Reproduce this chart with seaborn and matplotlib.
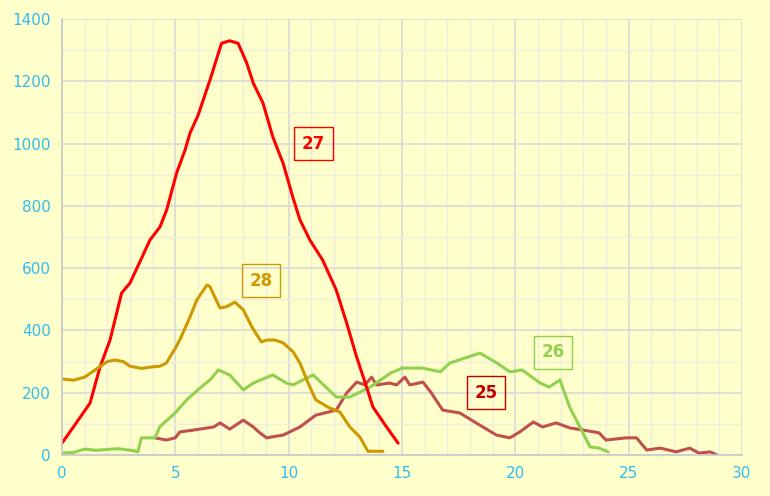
import pandas as pd
import seaborn as sns
import matplotlib.pyplot as plt
from matplotlib.ticker import MultipleLocator

# series (x, y pairs)
x27 = [0, 0.6, 1.24, 1.68, 2.12, 2.63, 3.0, 3.5, 3.88, 4.32, 4.62, 5.06, 5.43, 5.65, 6.0, 6.53,
       7.04, 7.4, 7.77, 8.15, 8.44, 8.87, 9.3, 9.76, 10.2, 10.5, 10.94, 11.5, 12.1, 12.56, 13.0,
       13.44, 13.72, 14.32, 14.83]
y27 = [38, 100, 167, 283, 369, 520, 552, 630, 690, 732, 787, 906, 979, 1034, 1090, 1204,
       1322, 1330, 1322, 1259, 1194, 1130, 1022, 936, 824, 755, 690, 626, 530, 424, 315,
       218, 154, 90, 38]

x28 = [0, 0.5, 1.0, 1.5, 2.0, 2.33, 2.7, 3.0, 3.5, 4.0, 4.32, 4.6, 5.0, 5.2, 5.65, 5.95, 6.4, 6.53, 6.97,
       7.26, 7.63, 8.0, 8.38, 8.8, 9.03, 9.4, 9.76, 10.2, 10.5, 10.86, 11.2, 11.8, 12.26, 12.7, 13.14,
       13.5, 14.16]
y28 = [244, 240, 250, 275, 300, 305, 300, 285, 278, 283, 285, 295, 343, 370, 443, 498, 546, 540, 472,
       476, 491, 466, 411, 363, 369, 369, 360, 331, 295, 231, 177, 151, 138, 90, 58,
       12, 12]

x26 = [0, 0.5, 1.0, 1.5, 2.0, 2.5, 3.14, 3.35, 3.5, 4.1, 4.32, 4.98, 5.5, 6.09, 6.53, 6.9, 7.4, 8.0,
       8.44, 9.3, 9.9, 10.2, 11.08, 12.1, 12.7, 13.6, 14.5, 15.0, 15.9, 16.7, 17.1, 18.44, 19.2, 19.76,
       20.3, 21.1, 21.5, 21.97, 22.4, 22.85, 23.3, 23.7, 24.1]
y26 = [6, 8, 19, 15, 18, 20, 14, 10, 55, 55, 91, 134, 177, 215, 241, 273, 257, 209,
       231, 257, 231, 225, 257, 186, 186, 218, 263, 279, 279, 267, 295, 327, 295, 267,
       273, 231, 218, 241, 154, 90, 26, 22, 10]

x25 = [4.1, 4.6, 5.0, 5.2, 5.8, 6.7, 6.97, 7.4, 8.0, 8.44, 8.73, 9.03, 9.76, 10.5, 11.2, 12.1, 12.56,
       13.0, 13.37, 13.66, 13.88, 14.47, 14.76, 15.13, 15.35, 15.93, 16.3, 16.8, 17.55, 18.57, 19.17,
       19.76, 20.2, 20.8, 21.2, 21.8, 22.4, 23.0, 23.7, 24.0, 24.9, 25.35, 25.8, 26.4, 27.1, 27.7,
       28.1, 28.6, 28.9]
y25 = [55, 48, 55, 74, 80, 90, 103, 83, 112, 90, 71, 55, 64, 90, 128, 144, 199,
       234, 225, 250, 225, 231, 225, 250, 225, 234, 199, 144, 135, 90, 64,
       55, 74, 106, 90, 103, 87, 80, 71, 48, 55, 55, 16, 22, 10, 22,
       6, 10, 0]

series = ['25', '26', '27', '28']
colors = {'25': '#C0504D', '26': '#92D050', '27': '#FF0000', '28': '#CC9900'}
label_colors = {'25': '#C00000', '26': '#92D050', '27': '#FF0000', '28': '#CC9900'}
label_pos = {'25': (18.7, 200), '26': (21.66, 330), '27': (11.1, 1000), '28': (8.8, 560)}

frames = [
    pd.DataFrame({'x': x25, 'y': y25, 'series': '25'}),
    pd.DataFrame({'x': x26, 'y': y26, 'series': '26'}),
    pd.DataFrame({'x': x27, 'y': y27, 'series': '27'}),
    pd.DataFrame({'x': x28, 'y': y28, 'series': '28'}),
]
df = pd.concat(frames, ignore_index=True)

sns.set_style('white', {'axes.facecolor': '#FFFFCC'})
fig = plt.figure(figsize=(7.7, 4.96), dpi=100, facecolor='#FFFFCC')
ax = fig.add_axes([0.0805, 0.0827, 0.883, 0.879])

sns.lineplot(data=df, x='x', y='y', hue='series', palette=colors, hue_order=series,
             linewidth=2.2, legend=False, sort=False, estimator=None, ax=ax)

ax.set_xlim(0, 30)
ax.set_ylim(0, 1400)
ax.xaxis.set_major_locator(MultipleLocator(5))
ax.xaxis.set_minor_locator(MultipleLocator(1))
ax.yaxis.set_major_locator(MultipleLocator(200))
ax.yaxis.set_minor_locator(MultipleLocator(100))
ax.grid(which='major', color='#D9D9D9', linewidth=1.2)
ax.grid(which='minor', color='#EEEEDD', linewidth=1.0)
ax.set_axisbelow(True)
ax.set_xlabel('')
ax.set_ylabel('')
for s in ['top', 'right']:
    ax.spines[s].set_visible(False)
for s in ['left', 'bottom']:
    ax.spines[s].set_color('#C8C8C8')
    ax.spines[s].set_linewidth(1.2)
ax.tick_params(which='both', length=0, colors='#33BBEE', labelsize=11, pad=8)

for s in series:
    lx, ly = label_pos[s]
    ax.text(lx, ly, s, color=label_colors[s], fontsize=12, fontweight='bold',
            ha='center', va='center',
            bbox=dict(boxstyle='square,pad=0.45', facecolor='none', edgecolor=label_colors[s], linewidth=1))

fig.savefig('out.png', dpi=100, facecolor=fig.get_facecolor())
